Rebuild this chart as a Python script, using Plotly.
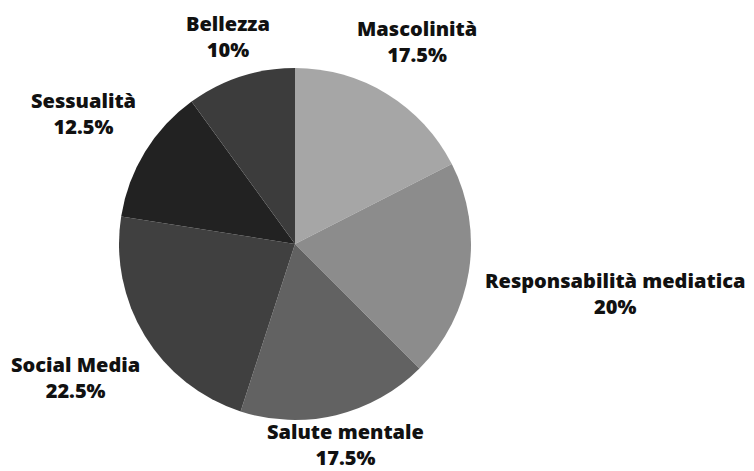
import plotly.graph_objects as go

categories = ["Mascolinità", "Responsabilità mediatica", "Salute mentale",
              "Social Media", "Sessualità", "Bellezza"]
values = [17.5, 20, 17.5, 22.5, 12.5, 10]
colors = ["#a6a6a6", "#8c8c8c", "#626262", "#404040", "#222222", "#3c3c3c"]

# label block centers (reference pixels)
label_px = [(417, 42), (615, 293), (345, 444), (75, 377), (83, 114), (228, 37)]

W, H = 754, 471
OFF = 8  # page body margin
cx, cy, r = 295 - OFF, 244 - OFF, 176

fig = go.Figure(go.Pie(
    labels=categories, values=values, sort=False, direction="clockwise",
    rotation=0, textinfo="none", hoverinfo="label+percent",
    marker=dict(colors=colors, line=dict(width=0)),
    domain=dict(x=[(cx - r) / W, (cx + r) / W], y=[1 - (cy + r) / H, 1 - (cy - r) / H]),
    showlegend=False,
))

font = dict(family="Open Sans", size=20, color="#111111", weight=800)
for cat, val, (px, py) in zip(categories, values, label_px):
    fig.add_annotation(
        x=(px - OFF) / W, y=1 - (py - OFF) / H, xref="paper", yref="paper",
        xanchor="center", yanchor="middle",
        text=f"{cat}<br>{val:g}%", showarrow=False, align="center", font=font,
    )

fig.update_layout(
    width=W, height=H, margin=dict(l=0, r=0, t=0, b=0),
    paper_bgcolor="white", plot_bgcolor="white",
)
fig.write_html("out.html")
